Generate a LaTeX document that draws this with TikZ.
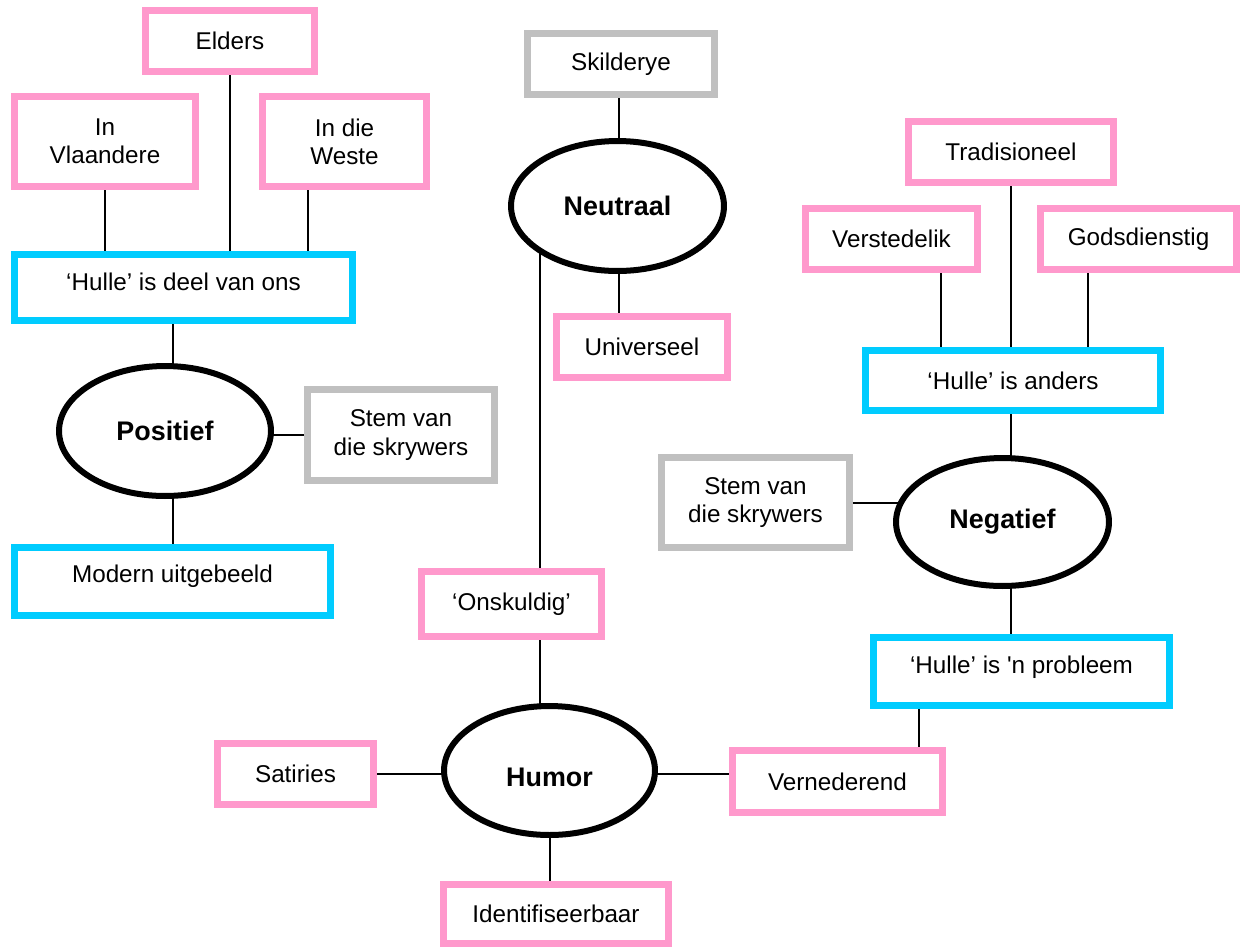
\documentclass[tikz,border=0pt]{standalone}
\usepackage{fontspec}
\setmainfont{Liberation Sans}
\usetikzlibrary{shapes.geometric}
\definecolor{boxpink}{RGB}{255,153,204}
\definecolor{boxblue}{RGB}{0,204,255}
\definecolor{boxgrey}{RGB}{192,192,192}

\begin{document}
\begin{tikzpicture}[x=0.02cm,y=-0.02cm,font=\fontsize{13.8}{16}\selectfont,
  box/.style={draw,line width=0.14cm,fill=white,inner sep=0pt,align=center},
  pbox/.style={box,draw=boxpink},
  bbox/.style={box,draw=boxblue},
  gbox/.style={box,draw=boxgrey},
  oval/.style={ellipse,draw,line width=0.12cm,fill=white,inner sep=0pt,outer sep=0pt,minimum width=4.26cm,font=\fontsize{15.3}{18}\selectfont\bfseries},
  link/.style={line width=0.04cm}
]
  \useasboundingbox (0,0) rectangle (1240,948);

  \node[pbox,minimum width=3.38cm,minimum height=1.22cm] (elders) at (230,41) {Elders};
  \node[pbox,minimum width=3.62cm,minimum height=1.80cm] (vlaandere) at (105,141.5) {In\\Vlaandere};
  \node[pbox,minimum width=3.28cm,minimum height=1.80cm] (weste) at (344.5,141.5) {In die\\Weste};
  \node[bbox,minimum width=6.76cm,minimum height=1.32cm,text depth=.22cm] (deel) at (183.5,287.5) {‘Hulle’ is deel van ons};
  \node[oval,minimum width=4.24cm,minimum height=2.60cm] (positief) at (165,431) {Positief};
  \node[gbox,minimum width=3.74cm,minimum height=1.82cm] (stemL) at (401,435) {Stem van\\die skrywers};
  \node[bbox,minimum width=6.32cm,minimum height=1.36cm,text depth=.32cm] (modern) at (172.5,581.5) {Modern uitgebeeld};

  \node[gbox,minimum width=3.74cm,minimum height=1.22cm] (skilderye) at (621,64) {Skilderye};
  \node[oval,minimum height=2.60cm] (neutraal) at (617.5,206) {Neutraal};
  \node[pbox,minimum width=3.42cm,minimum height=1.22cm] (universeel) at (642,347) {Universeel};
  \node[pbox,minimum width=3.60cm,minimum height=1.30cm] (onskuldig) at (511.5,604) {‘Onskuldig’};
  \node[oval,minimum width=4.22cm,minimum height=2.58cm,text height=.63cm] (humor) at (549.5,770.5) {Humor};
  \node[pbox,minimum width=3.12cm,minimum height=1.22cm] (satiries) at (295.5,774) {Satiries};
  \node[pbox,minimum width=4.50cm,minimum height=1.18cm] (ident) at (556,914) {Identifiseerbaar};

  \node[pbox,minimum width=4.10cm,minimum height=1.22cm] (tradisioneel) at (1011,152) {Tradisioneel};
  \node[pbox,minimum width=3.44cm,minimum height=1.22cm] (verstedelik) at (891.5,239) {Verstedelik};
  \node[pbox,minimum width=3.92cm,minimum height=1.22cm] (gods) at (1138.5,239) {Godsdienstig};
  \node[bbox,minimum width=5.90cm,minimum height=1.20cm] (anders) at (1013,380.5) {‘Hulle’ is anders};
  \node[gbox,minimum width=3.76cm,minimum height=1.80cm] (stemR) at (755.5,502.5) {Stem van\\die skrywers};
  \node[oval,minimum height=2.56cm] (negatief) at (1002.5,522) {Negatief};
  \node[bbox,minimum width=5.92cm,minimum height=1.36cm,text depth=.28cm] (probleem) at (1021.5,671.5) {‘Hulle’ is \textquotesingle n probleem};
  \node[pbox,minimum width=4.20cm,minimum height=1.24cm] (vernederend) at (837.5,781.5) {Vernederend};

  \draw[link] (vlaandere.south) -- (vlaandere.south |- deel.north);
  \draw[link] (elders.south) -- (elders.south |- deel.north);
  \draw[link] (weste.south -| 308,0) -- (deel.north -| 308,0);
  \draw[link] (deel.south -| 173,0) -- (positief.north -| 173,0);
  \draw[link] (stemL.west -| positief.east) -- (stemL.west);
  \draw[link] (positief.south -| 173,0) -- (modern.north -| 173,0);

  \draw[link] (skilderye.south -| 619,0) -- (neutraal.north -| 619,0);
  \draw[link] (neutraal.south -| 619,0) -- (universeel.north -| 619,0);
  \draw[link] (neutraal.210.6) -- (neutraal.210.6 |- onskuldig.north);
  \draw[link] (neutraal.210.6 |- onskuldig.south) -- (neutraal.210.6 |- humor.north);
  \draw[link] (satiries.east) -- (satiries.east -| humor.west);
  \draw[link] (satiries.east -| humor.east) -- (satiries.east -| vernederend.west);
  \draw[link] (humor.south) -- (humor.south |- ident.north);

  \draw[link] (verstedelik.south -| 941,0) -- (anders.north -| 941,0);
  \draw[link] (tradisioneel.south) -- (tradisioneel.south |- anders.north);
  \draw[link] (gods.south -| 1088,0) -- (anders.north -| 1088,0);
  \draw[link] (tradisioneel.south |- anders.south) -- (tradisioneel.south |- negatief.north);
  \draw[link] (stemR.east) -- (stemR.east -| negatief.168.8);
  \draw[link] (tradisioneel.south |- negatief.south) -- (tradisioneel.south |- probleem.north);
  \draw[link] (probleem.south -| 919,0) -- (vernederend.north -| 919,0);
\end{tikzpicture}
\end{document}
